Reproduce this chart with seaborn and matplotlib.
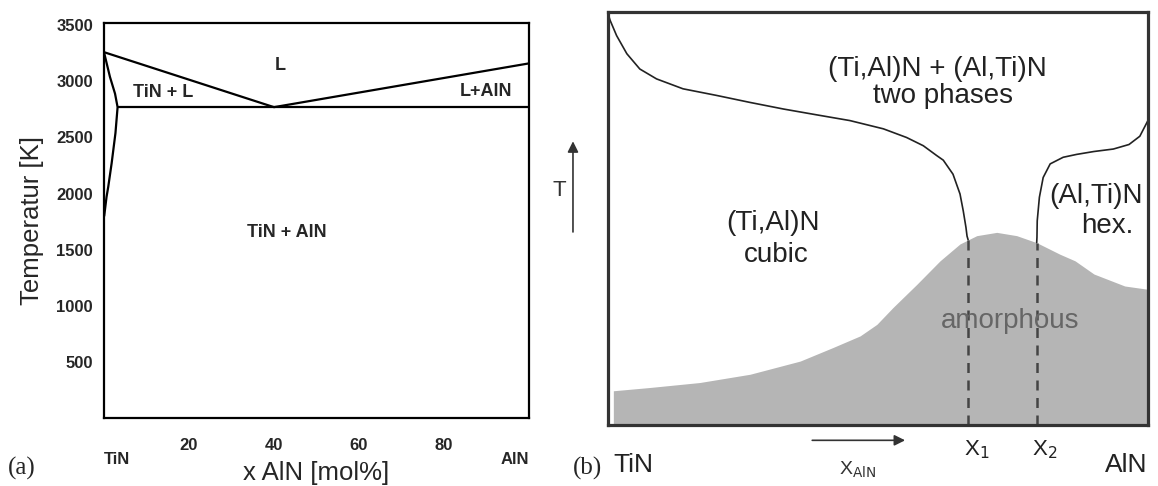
import matplotlib
matplotlib.use("Agg")
from matplotlib import pyplot as plt
import seaborn as sns

# ---- panel (a): TiN-AlN phase diagram ----
liq_x = [0, 40, 100]
liq_t = [3260, 2770, 3160]
eut_x = [3.2, 100]
eut_t = [2770, 2770]
solv_x = [0, 1.4, 2.6, 3.2, 2.7, 1.8, 1.0, 0.6, 0.05]
solv_t = [3260, 3040, 2890, 2770, 2540, 2270, 2060, 1970, 1800]
a_ticks_y = [500, 1000, 1500, 2000, 2500, 3000, 3500]
a_ticks_x = [20, 40, 60, 80]
a_labels = ["L", "TiN + L", "L+AlN", "TiN + AlN"]
a_lab_x = [41.5, 14, 90, 43]
a_lab_t = [3140, 2900, 2910, 1650]

# ---- panel (b): schematic, arbitrary units 0..100 ----
left_x = [0, 0.4, 1.6, 3.5, 5.9, 9.0, 13.9, 20.1, 26.3, 32.5, 38.6, 44.8, 51.0, 55.3,
          58.4, 60.9, 62.1, 63.9, 65.2, 65.8, 66.3, 66.5, 66.7]
left_y = [99.8, 98.1, 94.4, 90.0, 86.3, 83.9, 81.5, 79.9, 78.2, 76.6, 75.2, 73.8, 71.8, 69.7,
          67.7, 65.3, 64.2, 60.8, 56.0, 51.9, 47.9, 45.8, 44.9]
right_x = [79.4, 79.45, 79.5, 79.9, 80.6, 81.9, 84.3, 86.8, 90.0, 93.6, 96.5, 98.5, 100]
right_y = [44.2, 45.5, 49.5, 55.2, 60.0, 63.3, 64.9, 65.6, 66.3, 66.9, 68.0, 70.0, 73.8]
amor_x = [1.0, 7.8, 17.0, 26.3, 35.6, 41.7, 46.7, 49.8, 52.8, 57.2, 61.5, 65.2, 68.3,
          72.0, 75.7, 79.4, 83.7, 86.5, 90.0, 95.7, 100]
amor_y = [8.3, 9.1, 10.3, 12.3, 15.5, 18.8, 21.6, 24.4, 28.5, 34.1, 39.8, 43.9, 45.9,
          46.7, 45.9, 44.2, 41.4, 39.8, 36.6, 33.7, 32.9]
x1, x2 = 66.7, 79.4

sns.set_theme(style="white")
plt.rcParams['font.family'] = ['Liberation Sans', 'DejaVu Sans']

fig = plt.figure(figsize=(11.58, 4.86), dpi=100)
ax1 = fig.add_axes([0.0898, 0.1399, 0.3670, 0.8128])
ax2 = fig.add_axes([0.5250, 0.1255, 0.4663, 0.8488])

# panel (a)
for xs, ts in [(liq_x, liq_t), (eut_x, eut_t), (solv_x, solv_t)]:
    sns.lineplot(x=xs, y=ts, ax=ax1, color="black", lw=1.6, sort=False, estimator=None)
ax1.set_xlim(0, 100)
ax1.set_ylim(0, 3520)
ax1.set_xticks(a_ticks_x)
ax1.set_yticks(a_ticks_y)
ax1.tick_params(axis="x", direction="inout", length=13, width=1.5, pad=8, labelsize=12)
ax1.tick_params(axis="y", direction="in", length=6, width=1.2, pad=8, labelsize=12)
for lab in ax1.get_xticklabels() + ax1.get_yticklabels():
    lab.set_fontweight("bold")
for sp in ax1.spines.values():
    sp.set_color("black")
    sp.set_linewidth(1.6)
ax1.set_ylabel("Temperatur [K]", fontsize=18.5)
ax1.set_xlabel("x AlN [mol%]", fontsize=18.5)
ax1.xaxis.set_label_coords(0.5, -0.108)
ax1.yaxis.set_label_coords(-0.142, 0.5)
for s, xx, tt in zip(a_labels, a_lab_x, a_lab_t):
    ax1.text(xx, tt, s, ha="center", va="center", fontsize=13, fontweight="bold")
ax1.text(0, -0.106, "TiN", transform=ax1.transAxes, ha="left", va="center",
         fontsize=12, fontweight="bold")
ax1.text(1, -0.106, "AlN", transform=ax1.transAxes, ha="right", va="center",
         fontsize=12, fontweight="bold")
fig.text(0.019, 0.037, "(a)", fontsize=18, family="Liberation Serif", ha="center", va="center")

# panel (b)
ax2.fill_between(amor_x, 0, amor_y, color="#b5b5b5", lw=0)
sns.lineplot(x=left_x, y=left_y, ax=ax2, color="#222222", lw=1.2, sort=False, estimator=None)
sns.lineplot(x=right_x, y=right_y, ax=ax2, color="#222222", lw=1.2, sort=False, estimator=None)
ax2.vlines([x1, x2], 0, [44.9, 44.2], colors="#444444", linestyles=(0, (4, 3)), lw=1.8)
ax2.set_xlim(0, 100)
ax2.set_ylim(0, 100)
ax2.set_xticks([])
ax2.set_yticks([])
for sp in ax2.spines.values():
    sp.set_color("#333333")
    sp.set_linewidth(2.3)
txt = dict(ha="center", va="center", fontsize=20, color="#222222")
ax2.text(61, 86.4, "(Ti,Al)N + (Al,Ti)N", **txt)
ax2.text(62, 79.8, "two phases", **txt)
ax2.text(30.6, 48.9, "(Ti,Al)N", **txt)
ax2.text(31.2, 41.2, "cubic", **txt)
ax2.text(90.3, 55.4, "(Al,Ti)N", **txt)
ax2.text(92.4, 48.2, "hex.", **txt)
ax2.text(74.5, 25.3, "amorphous", ha="center", va="center", fontsize=20, color="#666666")

xt = ax2.get_xaxis_transform()
ax2.text(x1 + 1.5, -0.06, r"X$_1$", transform=xt, ha="center", va="center", fontsize=16, color="#222222")
ax2.text(x2 + 1.5, -0.06, r"X$_2$", transform=xt, ha="center", va="center", fontsize=16, color="#222222")
ax2.text(0.01, -0.097, "TiN", transform=ax2.transAxes, ha="left", va="center", fontsize=19, color="#222222")
ax2.text(1.0, -0.097, "AlN", transform=ax2.transAxes, ha="right", va="center", fontsize=19, color="#222222")
fig.text(0.507, 0.037, "(b)", fontsize=18, family="Liberation Serif", ha="center", va="center")
fig.text(0.741, 0.033, r"X$_{\mathrm{AlN}}$", fontsize=14, ha="center", va="center", color="#333333")
arrow = dict(arrowstyle="-|>", color="#333333", lw=1.2, mutation_scale=16)
ax2.annotate("", xy=(0.784, 0.094), xytext=(0.699, 0.094), xycoords="figure fraction",
             textcoords="figure fraction", arrowprops=arrow, annotation_clip=False)
ax2.annotate("", xy=(0.4948, 0.715), xytext=(0.4948, 0.517), xycoords="figure fraction",
             textcoords="figure fraction", arrowprops=arrow, annotation_clip=False)
fig.text(0.483, 0.609, "T", fontsize=16, ha="center", va="center", color="#333333")

fig.savefig("out.png", dpi=100)
